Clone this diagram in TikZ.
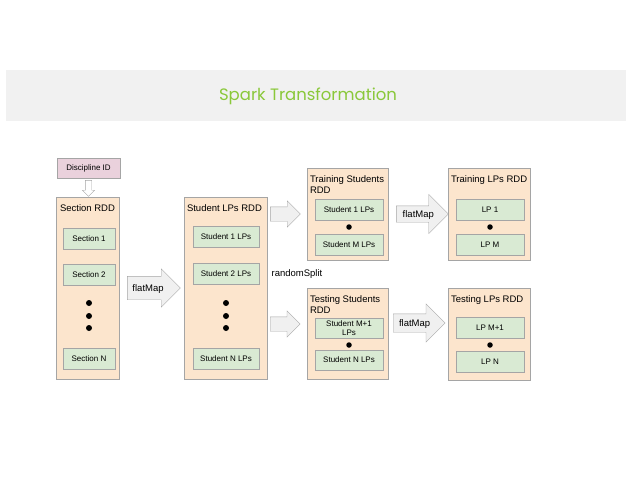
\documentclass[tikz,border=0pt]{standalone}
\usepackage{fontspec}
\setmainfont{Liberation Sans}
\newfontfamily\titlefont{Poppins}
\usetikzlibrary{shapes.arrows,positioning}
\definecolor{TitleGreen}{RGB}{138,200,58}
\definecolor{BandGray}{RGB}{241,241,241}
\definecolor{RDDPeach}{RGB}{252,229,205}
\definecolor{ItemGreen}{RGB}{217,234,211}
\definecolor{KeyPink}{RGB}{234,209,220}
\definecolor{EdgeGray}{RGB}{165,165,165}
\definecolor{ArrowFill}{RGB}{240,240,240}

\begin{document}
\begin{tikzpicture}[x=1pt,y=-1pt,
  rdd/.style={draw=EdgeGray,fill=RDDPeach,inner sep=0pt},
  item/.style={draw=EdgeGray,fill=ItemGreen,inner sep=0pt,minimum height=21pt,
               font=\fontsize{8}{9}\selectfont,align=center},
  rddlabel/.style={anchor=north west,inner sep=0pt,align=left,
                   font=\fontsize{9.5}{10.5}\selectfont},
  dot/.style={circle,fill=black,inner sep=0pt,minimum size=6pt},
  bigarrow/.style={single arrow,draw=EdgeGray,fill=ArrowFill,anchor=tail,
                   inner xsep=1pt,inner ysep=0pt,font=\fontsize{9.5}{11}\selectfont},
]
\useasboundingbox (0,0) rectangle (630,488);
% title
\node[fill=BandGray,minimum width=620pt,minimum height=51pt,inner sep=0pt] (band) at (316,95.5) {};
\node[font=\titlefont\fontsize{16.5}{19}\selectfont,text=TitleGreen] (title) at (308,96) {Spark Transformation};

% input key
\node[draw=EdgeGray,fill=KeyPink,minimum width=63pt,minimum height=20pt,inner sep=0pt,
      font=\fontsize{8}{9}\selectfont] (key) at (88.5,168) {Discipline ID};
\node[single arrow,draw=EdgeGray,fill=white,rotate=-90,anchor=tail,inner sep=3pt,
      single arrow head extend=3pt,minimum height=16pt] (keyarrow) at ([yshift=-2pt]key.south) {};

% section rdd
\node[rdd,minimum width=63pt,minimum height=182pt] (secrdd) at (87.5,288) {};
\node[rddlabel] (seclabel) at ([xshift=4pt,yshift=-8pt]secrdd.north west) {Section RDD};
\node[item,minimum width=52pt] (sec1) at (89,239) {Section 1};
\node[item,minimum width=52pt] (sec2) at (89,274.5) {Section 2};
\node[item,minimum width=52pt] (secN) at (89,358.5) {Section N};
\foreach \i/\y in {1/303,2/316,3/328}
  \node[dot] (secdot\i) at (89,\y) {};

\node[bigarrow,minimum height=53pt,single arrow head extend=7.5pt,
      text height=15pt,text depth=8pt] (flatmapA) at ([xshift=8pt]secrdd.east) {flatMap};

% student lps rdd
\node[rdd,minimum width=83pt,minimum height=182pt] (stdrdd) at (225.5,288) {};
\node[rddlabel] (stdlabel) at ([xshift=3pt,yshift=-8pt]stdrdd.north west) {Student LPs RDD};
\node[item,minimum width=66pt] (std1) at (226,237) {Student 1 LPs};
\node[item,minimum width=66pt] (std2) at (226,274) {Student 2 LPs};
\node[item,minimum width=66pt] (stdN) at (226,359) {Student N LPs};
\foreach \i/\y in {1/303,2/316,3/328}
  \node[dot] (stddot\i) at (226,\y) {};

% random split
\node[rdd,minimum width=81pt,minimum height=92pt] (trainrdd) at (347.5,214) {};
\node[rdd,minimum width=81pt,minimum height=91pt] (testrdd) at (347.5,333.5) {};
\node[bigarrow,minimum height=30pt,inner ysep=7pt,inner xsep=0pt,
      single arrow head extend=6pt] (splitA) at ([xshift=3pt]stdrdd.east |- trainrdd.west) {};
\node[bigarrow,minimum height=30pt,inner ysep=7pt,inner xsep=0pt,
      single arrow head extend=6pt] (splitB) at (270,324) {};
\node[font=\fontsize{9.5}{11}\selectfont,inner sep=0pt] (split) at (297,274) {randomSplit};

\node[rddlabel] (trainlabel) at ([xshift=3pt,yshift=-8pt]trainrdd.north west) {Training Students\\RDD};
\node[item,minimum width=68pt] (trs1) at (349,209.5) {Student 1 LPs};
\node[dot,minimum size=5.5pt] (trsdot) at (349,227) {};
\node[item,minimum width=68pt] (trsM) at (349,244.5) {Student M LPs};

\node[rddlabel] (testlabel) at ([xshift=3pt,yshift=-8pt]testrdd.north west) {Testing Students\\RDD};
\node[item,minimum width=68pt,minimum height=20pt] (tes1) at (349,328) {Student M+1\\LPs};
\node[dot,minimum size=5.5pt] (tesdot) at (349,345) {};
\node[item,minimum width=68pt,minimum height=20pt] (tesN) at (349,360) {Student N LPs};

% lp rdds
\node[bigarrow,minimum height=52pt,single arrow head extend=11.5pt,
      text height=11.5pt,text depth=4.5pt] (flatmapB) at ([xshift=8pt]trainrdd.east) {flatMap};
\node[bigarrow,minimum height=52pt,single arrow head extend=10pt,
      text height=12.5pt,text depth=5.5pt] (flatmapC) at (393,323) {flatMap};

\node[rdd,minimum width=82pt,minimum height=92pt] (trlprdd) at (489,214) {};
\node[rddlabel] (trlplabel) at ([xshift=3pt,yshift=-8pt]trlprdd.north west) {Training LPs RDD};
\node[item,minimum width=68pt] (lp1) at (490,209.5) {LP 1};
\node[dot,minimum size=5.5pt] (lpdot) at (490,227) {};
\node[item,minimum width=68pt] (lpM) at (490,244.5) {LP M};

\node[rdd,minimum width=82pt,minimum height=92pt] (telprdd) at (489,334) {};
\node[rddlabel] (telplabel) at ([xshift=3pt,yshift=-8pt]telprdd.north west) {Testing LPs RDD};
\node[item,minimum width=68pt] (lpM1) at (490,327.5) {LP M+1};
\node[dot,minimum size=5.5pt] (lpdotB) at (490,345) {};
\node[item,minimum width=68pt] (lpN) at (490,362) {LP N};
\end{tikzpicture}
\end{document}
